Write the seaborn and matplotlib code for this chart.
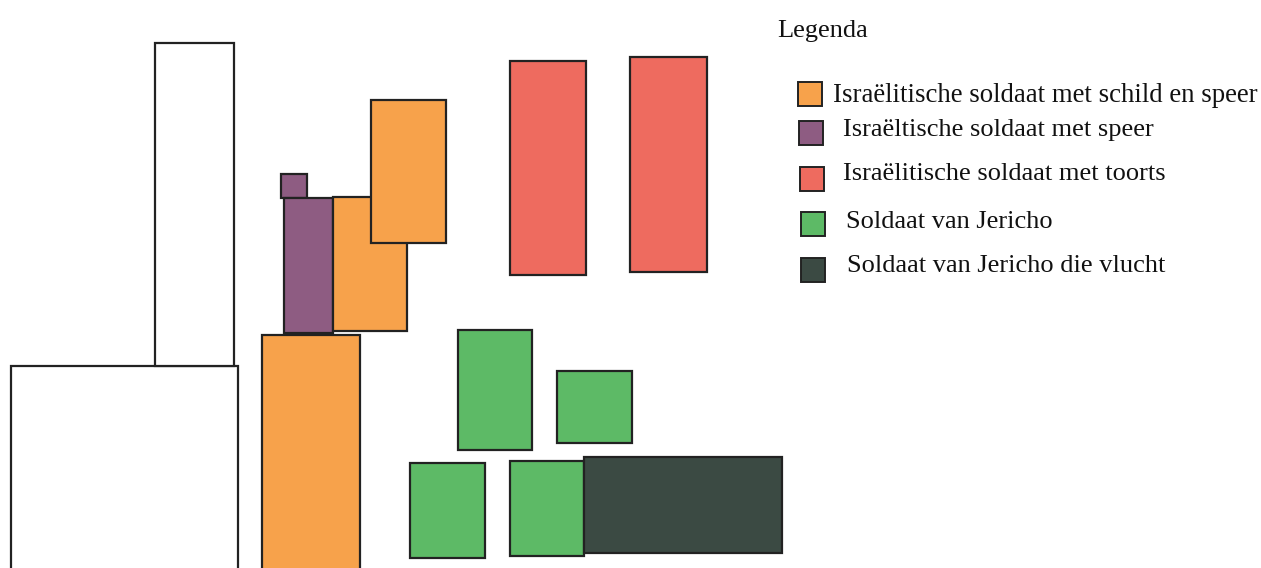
import matplotlib
matplotlib.use("Agg")
import matplotlib.pyplot as plt
import seaborn as sns

sns.set_theme(style="white")
plt.rcParams['font.family'] = ['Liberation Serif', 'DejaVu Serif']

# ---- data ----
categories = [
    "Israëlitische soldaat met schild en speer",
    "Israëltische soldaat met speer",
    "Israëlitische soldaat met toorts",
    "Soldaat van Jericho",
    "Soldaat van Jericho die vlucht",
]
legend_title = "Legenda"
palette = ["#F7A24B", "#8E5C82", "#EE6B5F", "#5DBA66", "#3B4A43"]

# blocks: category index (-1 = empty outline), left, right, top, bottom (image pixel units)
block_cat = [-1, -1, 0, 1, 1, 0, 0, 2, 2, 3, 3, 3, 3, 4]
block_left = [11, 155, 262, 281, 284, 333, 371, 510, 630, 458, 557, 410, 510, 584]
block_right = [238, 234, 360, 307, 333, 407, 446, 586, 707, 532, 632, 485, 584, 782]
block_top = [366, 43, 335, 174, 198, 197, 100, 61, 57, 330, 371, 463, 461, 457]
block_bottom = [575, 366, 575, 198, 333, 331, 243, 275, 272, 450, 443, 558, 556, 553]

W, H = 1261, 568
fig = plt.figure(figsize=(W / 100, H / 100), dpi=100)
ax = fig.add_axes([0, 0, 1, 1])
ax.set_xlim(0, W)
ax.set_ylim(H, 0)
ax.axis("off")

for c, l, r, t, b in zip(block_cat, block_left, block_right, block_top, block_bottom):
    fc = "white" if c < 0 else palette[c]
    ax.bar(l, b - t, width=r - l, bottom=t, align="edge", color=fc,
           edgecolor="#222222", linewidth=1.6, zorder=2 if c >= 0 else 1)

# legend
ax.text(777, 31, legend_title, fontsize=19, ha="left", va="center", color="#111111")
box_x = [798, 799, 800, 801, 801]
box_y = [94, 133, 179, 224, 270]
text_x = [833, 843, 843, 846, 847]
text_y = [96, 130, 174, 222, 266]
for i, cat in enumerate(categories):
    ax.bar(box_x[i], 24, width=24, bottom=box_y[i] - 12, align="edge",
           color=palette[i], edgecolor="#222222", linewidth=1.4)
    ax.text(text_x[i], text_y[i], cat, fontsize=19.3 if i == 0 else 19,
            ha="left", va="center", color="#111111")

fig.savefig("out.png", dpi=100)
